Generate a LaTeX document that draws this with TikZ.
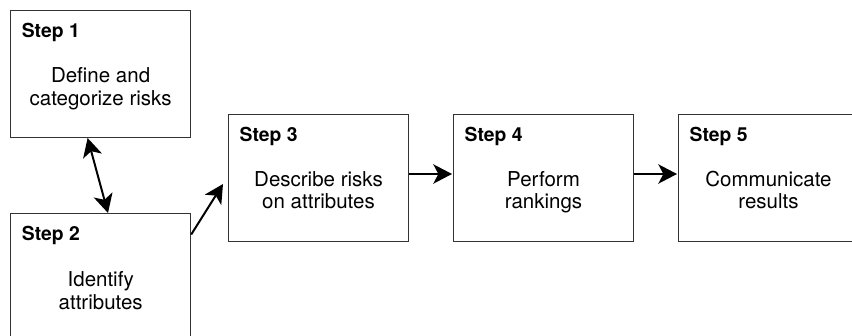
\documentclass[tikz,border=0pt]{standalone}
\usepackage{fontspec}
\setmainfont{TeX Gyre Heros}
\usetikzlibrary{arrows.meta,calc}

\begin{document}
\begin{tikzpicture}[x=0.03cm,y=-0.03cm,>={Stealth[length=5.6mm,width=5.8mm,inset=1.5mm]}]
                \useasboundingbox (0,0) rectangle (852,335);
                \clip (0,0) rectangle (852,335);
                \begin{scope}[every node/.style={rectangle,draw=black!80,line width=0.85pt,minimum width=5.4cm,minimum height=3.81cm}]
                    \node (S1) at (100.6,74) {};
                    \node (S2) at (100.7,277) {};
                    \node (S3) at (318.5,177.6) {};
                    \node (S4) at (543.5,177.6) {};
                    \node (S5) at (768.5,177.6) {};
                \end{scope}
                \begin{scope}[every node/.style={anchor=base west,inner sep=0pt,font=\bfseries\fontsize{16.5}{19}\selectfont}]
                    \node (T1) at ($(S1.north west)+(11.5,27.5)$) {Step 1};
                    \node (T2) at ($(S2.north west)+(11.5,27.5)$) {Step 2};
                    \node (T3) at ($(S3.north west)+(11.5,27.5)$) {Step 3};
                    \node (T4) at ($(S4.north west)+(11.5,27.5)$) {Step 4};
                    \node (T5) at ($(S5.north west)+(11.5,27.5)$) {Step 5};
                \end{scope}
                \begin{scope}[every node/.style={anchor=base,inner sep=0pt,align=center,font=\fontsize{17.5}{18.8}\selectfont}]
                    \node (B1) at ($(S1.north)+(0,95)$) {Define and\\categorize risks};
                    \node (B2) at ($(S2.north)+(0,96)$) {Identify\\attributes};
                    \node (B3) at ($(S3.north)+(0,95)$) {Describe risks\\on attributes};
                    \node (B4) at ($(S4.north)+(0,95)$) {Perform\\rankings};
                    \node (B5) at ($(S5.north)+(0,95)$) {Communicate\\results};
                \end{scope}
                \coordinate (A1) at ($(S1.south)+(-13,0)$);
                \coordinate (A2) at ($(S2.north)+(7.3,0)$);
                \coordinate (C2) at ($(S2.north east)+(0,21.5)$);
                \coordinate (C3) at ($(S3.west)+(-5,6.4)$);
                \coordinate (E3) at ($(S3.east)+(0,-3.6)$);
                \coordinate (W4) at ($(S4.west)+(-1,-3.6)$);
                \coordinate (E4) at ($(S4.east)+(0,-3.6)$);
                \coordinate (W5) at ($(S5.west)+(-1,-3.6)$);
                \begin{scope}[every edge/.style={draw=black,line width=1.7pt}]
                    \draw (A1) edge [<->] (A2);
                    \draw (C2) edge [->] (C3);
                    \draw (E3) edge [->] (W4);
                    \draw (E4) edge [->] (W5);
                \end{scope}
            \end{tikzpicture}
\end{document}
